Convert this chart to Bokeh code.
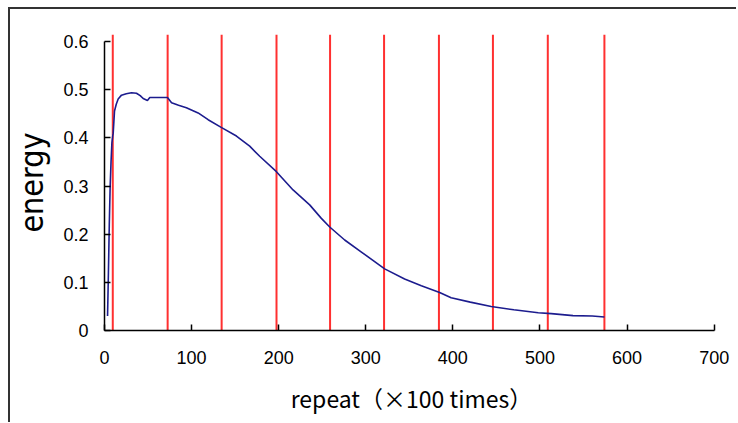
from bokeh.plotting import figure
from bokeh.models import Range1d, FixedTicker
from bokeh.embed import file_html
from bokeh.resources import INLINE

# data
repeat = [3.5, 4.5, 5.5, 6.5, 7.5, 8.5, 9.5, 10, 11.5, 13.5, 15.7, 19.5, 25, 31, 36.7,
          41, 44.4, 49.3, 52, 60, 72.3, 77, 85, 94, 107.5, 119, 134, 151.5, 166.7,
          178.2, 197.4, 216.5, 235.6, 249, 258.6, 275.8, 295, 321.7, 344.6, 363.8,
          384.8, 398, 420, 444, 470, 498, 513, 538, 560, 574]
energy = [0.03, 0.12, 0.22, 0.30, 0.35, 0.39, 0.405, 0.41, 0.456, 0.47, 0.481, 0.489,
          0.492, 0.494, 0.493, 0.488, 0.482, 0.478, 0.484, 0.484, 0.484, 0.473, 0.468,
          0.463, 0.452, 0.438, 0.422, 0.404, 0.383, 0.362, 0.330, 0.292, 0.261, 0.233,
          0.215, 0.188, 0.163, 0.128, 0.107, 0.093, 0.079, 0.068, 0.059, 0.050, 0.043,
          0.037, 0.035, 0.031, 0.030, 0.028]
marks = [9.5, 72.5, 134.5, 197.5, 259, 321, 384, 446, 509, 574]
mark_top = 0.615
x_ticks = [0, 100, 200, 300, 400, 500, 600, 700]
y_ticks = [0, 0.1, 0.2, 0.3, 0.4, 0.5, 0.6]
y_tick_labels = ["0", "0.1", "0.2", "0.3", "0.4", "0.5", "0.6"]

p = figure(width=728, height=415, x_range=Range1d(0, 705), y_range=Range1d(0, 0.615),
           output_backend="svg", toolbar_location=None,
           min_border_left=92, min_border_top=25, min_border_right=20, min_border_bottom=94)
p.styles = {"border-top": "2px solid #333", "border-left": "2px solid #333",
            "margin-left": "8px", "margin-top": "7px"}
p.outline_line_color = None
p.grid.visible = False

p.segment(x0=marks, y0=[0] * len(marks), x1=marks, y1=[mark_top] * len(marks),
          line_color="#ff3030", line_width=2)
p.line(repeat, energy, line_color="#1c1c8e", line_width=1.6)

tick_font = "Liberation Sans"
p.xaxis.ticker = FixedTicker(ticks=x_ticks)
p.yaxis.ticker = FixedTicker(ticks=y_ticks)
p.yaxis.major_label_overrides = {t: s for t, s in zip(y_ticks, y_tick_labels)}
p.xaxis.bounds = (0, 700)
p.yaxis.bounds = (0, 0.6)
for ax in (p.xaxis, p.yaxis):
    ax.axis_line_color = "black"
    ax.axis_line_width = 1.5
    ax.major_tick_line_color = "black"
    ax.major_tick_line_width = 1.5
    ax.major_tick_in = 6
    ax.major_tick_out = 0
    ax.minor_tick_line_color = None
    ax.major_label_text_font = tick_font
    ax.major_label_text_font_size = "18px"
    ax.major_label_text_color = "black"
    ax.axis_label_text_font_style = "normal"
    ax.axis_label_text_color = "black"
p.xaxis.major_label_standoff = 20
p.yaxis.major_label_standoff = 16

p.xaxis.axis_label = "repeat（×100 times）"
p.xaxis.axis_label_text_font = "Noto Sans CJK JP"
p.xaxis.axis_label_text_font_size = "23px"
p.xaxis.axis_label_standoff = 14

p.yaxis.axis_label = "energy"
p.yaxis.axis_label_text_font = "'Liberation Sans Narrow', 'DejaVu Sans Condensed', sans-serif"
p.yaxis.axis_label_text_font_size = "32px"
p.yaxis.axis_label_standoff = 9

open("out.html", "w").write(file_html(p, INLINE))
